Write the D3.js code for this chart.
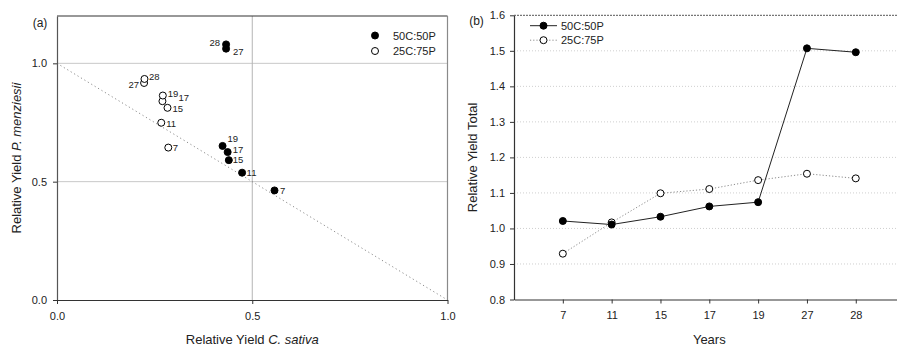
<!DOCTYPE html>
<html>
<head>
<meta charset="utf-8">
<script src="https://cdn.jsdelivr.net/npm/d3@7"></script>
<style>
  html, body { margin: 0; padding: 0; background: #fff; }
  svg { display: block; font-family: "Liberation Sans", Arial, sans-serif; }
</style>
</head>
<body>
<svg id="chart" width="897" height="345"></svg>
<script>
// ---- data ----
const years = [7, 11, 15, 17, 19, 27, 28];

// relative yields of each species (panel a)
const rySativa50 = [0.557, 0.474, 0.440, 0.437, 0.424, 0.433, 0.433];
const ryMenz50   = [0.463, 0.538, 0.591, 0.625, 0.651, 1.062, 1.080];
const rySativa25 = [0.285, 0.267, 0.283, 0.270, 0.271, 0.223, 0.224];
const ryMenz25   = [0.644, 0.749, 0.812, 0.840, 0.864, 0.917, 0.934];

// relative yield total (panel b)
const ryt50 = [1.021, 1.011, 1.033, 1.062, 1.074, 1.507, 1.496];
const ryt25 = [0.929, 1.017, 1.099, 1.111, 1.136, 1.154, 1.141];

const seriesNames = ["50C:50P", "25C:75P"];
const ticksA = [0, 0.5, 1.0];
const ticksB = [0.8, 0.9, 1.0, 1.1, 1.2, 1.3, 1.4, 1.5, 1.6];

// year-label placement next to the scatter points [dx, dy, anchor]
const labelPlace50 = {7:[5.5,0,"start"], 11:[4.5,0,"start"], 15:[4,-0.5,"start"], 17:[5,-2,"start"],
                      19:[5,-7.5,"start"], 27:[7,2.5,"start"], 28:[-6,-1.5,"end"]};
const labelPlace25 = {7:[4.5,0.5,"start"], 11:[5,0.5,"start"], 15:[5,1.2,"start"], 17:[16,-3.2,"start"],
                      19:[5,-1.5,"start"], 27:[-5,2,"end"], 28:[4.5,-2,"start"]};

const svg = d3.select("#chart");
const R = 3.5;

// ================= panel (a) =================
const ax = d3.scaleLinear().domain([0, 1]).range([57, 447.5]);
const ay = d3.scaleLinear().domain([0, 1.2]).range([300, 16]);
const ga = svg.append("g");

// reference grid at 0.5 / 1.0
ga.selectAll("line.hg").data([0.5, 1.0]).join("line")
  .attr("x1", ax(0)).attr("x2", ax(1)).attr("y1", d => ay(d)).attr("y2", d => ay(d))
  .attr("stroke", "#c8c8c8").attr("stroke-width", 1);
ga.append("line")
  .attr("x1", ax(0.5)).attr("x2", ax(0.5)).attr("y1", ay(0)).attr("y2", ay(1.2))
  .attr("stroke", "#b4b4b4").attr("stroke-width", 1);

// replacement line: RY_C + RY_P = 1
ga.append("line")
  .attr("x1", ax(0)).attr("y1", ay(1)).attr("x2", ax(1)).attr("y2", ay(0))
  .attr("stroke", "#8c8c8c").attr("stroke-width", 1).attr("stroke-dasharray", "1.2,2.8");

// frame: top and right
ga.append("line").attr("x1", ax(0)).attr("x2", ax(1)).attr("y1", ay(1.2)).attr("y2", ay(1.2))
  .attr("stroke", "#333").attr("stroke-width", 1.2);
ga.append("line").attr("x1", ax(1)).attr("x2", ax(1)).attr("y1", ay(1.2)).attr("y2", ay(0))
  .attr("stroke", "#8a8a8a").attr("stroke-width", 1.2);

const fmt = d3.format(".1f");
const yAxisA = ga.append("g").attr("transform", `translate(${ax(0)},0)`)
  .call(d3.axisLeft(ay).tickValues(ticksA).tickFormat(fmt).tickSize(4).tickPadding(6).tickSizeOuter(0));
const xAxisA = ga.append("g").attr("transform", `translate(0,${ay(0)})`)
  .call(d3.axisBottom(ax).tickValues(ticksA).tickFormat(fmt).tickSize(4).tickPadding(8).tickSizeOuter(0));
yAxisA.select(".domain").attr("stroke", "#555").attr("stroke-width", 1.2);
xAxisA.select(".domain").attr("stroke", "#333").attr("stroke-width", 1.2);
[yAxisA, xAxisA].forEach(g => {
  g.selectAll(".tick line").attr("stroke", "#333");
  g.selectAll(".tick text").attr("font-size", 11).attr("fill", "#222")
    .attr("font-family", "Liberation Sans, Arial, sans-serif");
});

function scatter(xs, ys, filled, place) {
  const pts = years.map((yr, i) => ({yr, x: xs[i], y: ys[i]}));
  ga.append("g").selectAll("circle").data(pts).join("circle")
    .attr("cx", d => ax(d.x)).attr("cy", d => ay(d.y)).attr("r", R)
    .attr("fill", filled ? "#000" : "#fff").attr("stroke", "#000").attr("stroke-width", 1);
  ga.append("g").selectAll("text").data(pts).join("text")
    .attr("x", d => ax(d.x) + place[d.yr][0])
    .attr("y", d => ay(d.y) + place[d.yr][1] + 3.4)
    .attr("text-anchor", d => place[d.yr][2])
    .attr("font-size", 9.5).attr("fill", "#222")
    .text(d => d.yr);
}
scatter(rySativa25, ryMenz25, false, labelPlace25);
scatter(rySativa50, ryMenz50, true, labelPlace50);

// legend (a)
const legA = ga.append("g");
seriesNames.forEach((name, i) => {
  const y = 35.5 + i * 15.5;
  legA.append("circle").attr("cx", 375).attr("cy", y).attr("r", R)
    .attr("fill", i === 0 ? "#000" : "#fff").attr("stroke", "#000");
  legA.append("text").attr("x", 393).attr("y", y + 4).attr("font-size", 11).attr("fill", "#222").text(name);
});

ga.append("text").attr("x", 40).attr("y", 26.5).attr("text-anchor", "middle")
  .attr("font-size", 12).attr("fill", "#222").text("(a)");

// axis titles (a)
const xt = ga.append("text").attr("x", ax(0.5)).attr("y", 343.5).attr("text-anchor", "middle")
  .attr("font-size", 13).attr("fill", "#222");
xt.append("tspan").text("Relative Yield ");
xt.append("tspan").attr("font-style", "italic").text("C. sativa");
const yt = ga.append("text").attr("transform", `translate(21,${(ay(0) + ay(1.2)) / 2}) rotate(-90)`)
  .attr("text-anchor", "middle").attr("font-size", 13).attr("fill", "#222");
yt.append("tspan").text("Relative Yield ");
yt.append("tspan").attr("font-style", "italic").text("P. menziesii");

// ================= panel (b) =================
const bx = d3.scaleLinear().domain([0, 8]).range([514, 904.6]);
const by = d3.scaleLinear().domain([0.8, 1.6]).range([299.5, 15.3]);
const gb = svg.append("g");

// dotted grid
gb.selectAll("line.grid").data(ticksB.filter(t => t > 0.8 && t < 1.6)).join("line")
  .attr("x1", bx(0)).attr("x2", 897).attr("y1", d => by(d)).attr("y2", d => by(d))
  .attr("stroke", "#cfcfcf").attr("stroke-width", 1).attr("stroke-dasharray", "1,2");
// top boundary
gb.append("line").attr("x1", bx(0)).attr("x2", 897).attr("y1", by(1.6)).attr("y2", by(1.6))
  .attr("stroke", "#555").attr("stroke-width", 1).attr("stroke-dasharray", "2,1");

const yAxisB = gb.append("g").attr("transform", `translate(${bx(0)},0)`)
  .call(d3.axisLeft(by).tickValues(ticksB).tickFormat(fmt).tickSize(4).tickPadding(5).tickSizeOuter(0));
const xAxisB = gb.append("g").attr("transform", `translate(0,${by(0.8)})`)
  .call(d3.axisBottom(bx).tickValues(d3.range(1, years.length + 1))
    .tickFormat(d => years[d - 1]).tickSize(4).tickPadding(8).tickSizeOuter(0));
[yAxisB, xAxisB].forEach(g => {
  g.select(".domain").attr("stroke", "#333").attr("stroke-width", 1.2);
  g.selectAll(".tick line").attr("stroke", "#333");
  g.selectAll(".tick text").attr("font-size", 11).attr("fill", "#222")
    .attr("font-family", "Liberation Sans, Arial, sans-serif");
});

const line = d3.line().x((d, i) => bx(i + 1)).y(d => by(d));
gb.append("path").datum(ryt25).attr("d", line).attr("fill", "none")
  .attr("stroke", "#8c8c8c").attr("stroke-width", 1).attr("stroke-dasharray", "1.2,2");
gb.append("path").datum(ryt50).attr("d", line).attr("fill", "none")
  .attr("stroke", "#222").attr("stroke-width", 1);
gb.append("g").selectAll("circle").data(ryt25).join("circle")
  .attr("cx", (d, i) => bx(i + 1)).attr("cy", d => by(d)).attr("r", R)
  .attr("fill", "#fff").attr("stroke", "#000");
gb.append("g").selectAll("circle").data(ryt50).join("circle")
  .attr("cx", (d, i) => bx(i + 1)).attr("cy", d => by(d)).attr("r", R)
  .attr("fill", "#000").attr("stroke", "#000");

// legend (b)
seriesNames.forEach((name, i) => {
  const y = 25.7 + i * 14.5;
  gb.append("line").attr("x1", 530).attr("x2", 557).attr("y1", y).attr("y2", y)
    .attr("stroke", i === 0 ? "#222" : "#8c8c8c")
    .attr("stroke-dasharray", i === 0 ? null : "1.2,2");
  gb.append("circle").attr("cx", 543.5).attr("cy", y).attr("r", R)
    .attr("fill", i === 0 ? "#000" : "#fff").attr("stroke", "#000");
  gb.append("text").attr("x", 561).attr("y", y + 4).attr("font-size", 11).attr("fill", "#222").text(name);
});

gb.append("text").attr("x", 476.5).attr("y", 25).attr("text-anchor", "middle")
  .attr("font-size", 12).attr("fill", "#222").text("(b)");

gb.append("text").attr("x", bx(4)).attr("y", 343.5).attr("text-anchor", "middle")
  .attr("font-size", 13).attr("fill", "#222").text("Years");
gb.append("text").attr("transform", `translate(477,${(by(0.8) + by(1.6)) / 2}) rotate(-90)`)
  .attr("text-anchor", "middle").attr("font-size", 13).attr("fill", "#222").text("Relative Yield Total");
</script>
</body>
</html>
